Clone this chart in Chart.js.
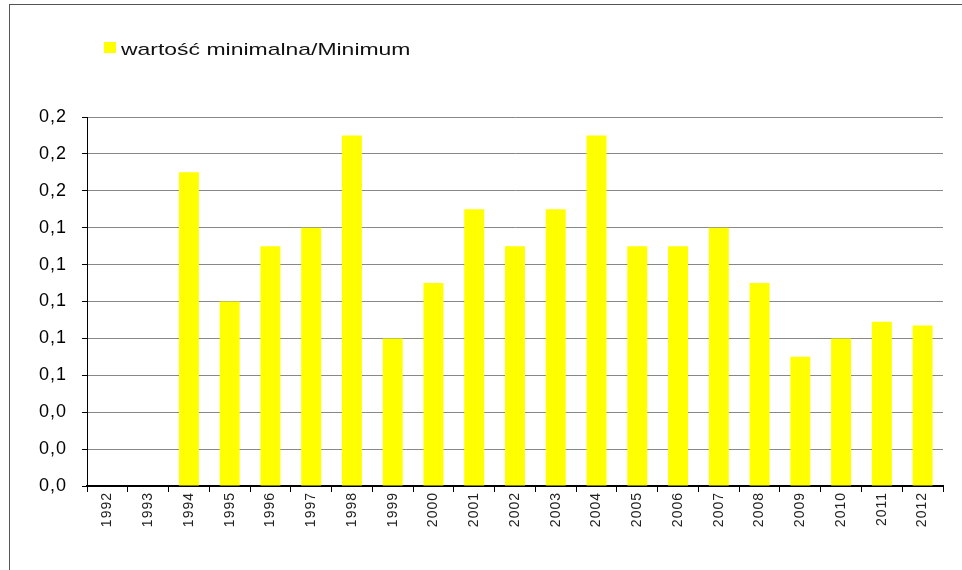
<!DOCTYPE html>
<html>
<head>
<meta charset="utf-8">
<script src="https://cdn.jsdelivr.net/npm/chart.js@4/dist/chart.umd.min.js"></script>
<style>
  html, body { margin: 0; padding: 0; background: #fff; width: 962px; height: 570px; overflow: hidden; }
  #wrap { position: relative; width: 962px; height: 570px; }
  #frame { position: absolute; left: 9px; top: 4px; width: 1000px; height: 700px; border-left: 1px solid #555; border-top: 1px solid #555; }
  #chart { position: absolute; left: 0; top: 0; }
  #legend { position: absolute; left: 104px; top: 41px; font-family: "Liberation Sans", Arial, sans-serif; font-size: 17px; line-height: 17px; color: #111; white-space: nowrap; }
  #legend .box { position: absolute; left: 0; top: 1px; width: 12px; height: 11px; }
  #legend .txt { position: absolute; left: 17px; top: 0; transform: scaleX(1.35); transform-origin: 0 0; }
</style>
</head>
<body>
<div id="wrap">
  <div id="frame"></div>
  <canvas id="chart" width="962" height="570"></canvas>
  <div id="legend"><span class="box"></span><span class="txt"></span></div>
</div>
<script>
const categories = ['1992','1993','1994','1995','1996','1997','1998','1999','2000','2001','2002','2003','2004','2005','2006','2007','2008','2009','2010','2011','2012'];
const minimumValues = [null, null, 0.17, 0.10, 0.13, 0.14, 0.19, 0.08, 0.11, 0.15, 0.13, 0.15, 0.19, 0.13, 0.13, 0.14, 0.11, 0.07, 0.08, 0.089, 0.087];
const seriesLabel = 'wartość minimalna/Minimum';
const seriesColor = '#FFFF00';
const yTickValues = [0, 0.02, 0.04, 0.06, 0.08, 0.10, 0.12, 0.14, 0.16, 0.18, 0.20];
const yTickLabels = ['0,0','0,0','0,0','0,1','0,1','0,1','0,1','0,1','0,2','0,2','0,2'];

document.querySelector('#legend .box').style.background = seriesColor;
document.querySelector('#legend .txt').textContent = seriesLabel;

const spacingPlugin = {
  id: 'spacing',
  beforeDraw(chart) { chart.ctx.letterSpacing = '1px'; }
};

new Chart(document.getElementById('chart'), {
  type: 'bar',
  data: {
    labels: categories,
    datasets: [{
      label: seriesLabel,
      data: minimumValues,
      backgroundColor: seriesColor,
      borderWidth: 0,
      barPercentage: 0.49,
      categoryPercentage: 1.0
    }]
  },
  plugins: [spacingPlugin],
  options: {
    responsive: false,
    animation: false,
    devicePixelRatio: 1,
    layout: { padding: { top: 117, right: 19, left: 0, bottom: 0 } },
    plugins: { legend: { display: false }, tooltip: { enabled: false } },
    scales: {
      x: {
        afterFit(scale) { scale.height = 84; },
        grid: { display: true, drawOnChartArea: false, drawTicks: true, offset: true, tickLength: 6, tickColor: '#000', tickWidth: 1 },
        border: { display: true, color: '#000', width: 2 },
        ticks: {
          autoSkip: false,
          minRotation: 90,
          maxRotation: 90,
          padding: 0,
          color: '#222',
          font: { family: '"Liberation Sans", Arial, sans-serif', size: 14 }
        }
      },
      y: {
        min: 0,
        max: 0.2,
        afterFit(scale) { scale.width = 87; },
        afterBuildTicks(scale) { scale.ticks = yTickValues.map(v => ({ value: v })); },
        grid: { color: '#888', lineWidth: 1, drawTicks: true, tickLength: 5, tickColor: '#000' },
        border: { display: true, color: '#000', width: 1 },
        ticks: {
          padding: 15,
          color: '#000',
          font: { family: '"Liberation Sans", Arial, sans-serif', size: 18 },
          callback: (v, i) => yTickLabels[i]
        }
      }
    }
  }
});
</script>
</body>
</html>
